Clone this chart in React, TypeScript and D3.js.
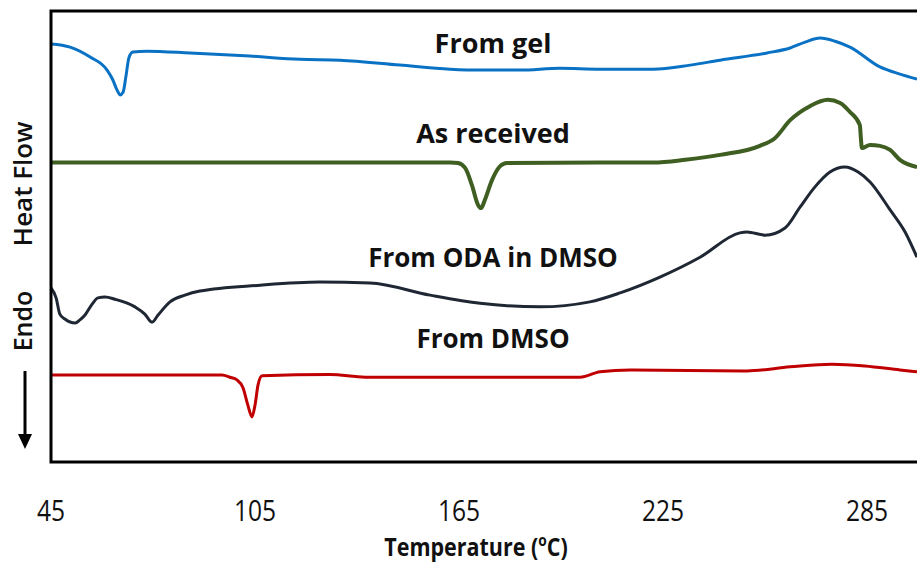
import { useEffect, useRef } from 'react'
import * as d3 from 'd3'

// DSC traces, temperature (°C) vs heat flow (arbitrary units, offset per sample)
const fromGel: [number, number][] = [
  [45.0, 92.7], [50.6, 92.0], [56.5, 89.8], [61.5, 86.9], [63.2, 84.7], [64.4, 82.5],
  [65.3, 81.4], [66.2, 82.0], [67.1, 85.8], [67.9, 89.6], [69.1, 90.9], [73.2, 91.1],
  [85.9, 90.7], [103.5, 90.0], [118.2, 89.3], [130.0, 89.1], [147.6, 88.0], [162.4, 87.1],
  [171.2, 86.9], [182.9, 86.9], [194.7, 87.3], [206.5, 87.1], [222.1, 87.1], [233.0, 88.0],
  [241.8, 89.1], [255.6, 90.7], [262.4, 91.8], [266.8, 93.1], [271.2, 94.0], [275.6, 93.3],
  [280.0, 92.0], [288.8, 87.6], [294.7, 86.0], [299.7, 84.9],
]

const asReceived: [number, number][] = [
  [45.0, 66.4], [162.4, 66.4], [164.7, 66.3], [166.8, 65.2], [168.8, 61.4], [170.6, 57.0],
  [171.5, 56.3], [172.6, 58.1], [174.7, 62.5], [177.1, 65.6], [179.1, 66.3], [206.5, 66.4],
  [222.1, 66.4], [231.5, 67.0], [241.8, 68.1], [253.5, 70.1], [257.9, 71.8], [262.4, 75.8],
  [268.2, 78.9], [273.5, 80.3], [277.1, 79.6], [280.0, 77.6], [282.9, 74.7], [283.2, 71.8],
  [283.5, 69.6], [285.9, 70.3], [288.8, 70.1], [291.8, 69.2], [294.7, 67.0], [299.7, 65.4],
]

const fromOdaDmso: [number, number][] = [
  [45.0, 38.6], [46.5, 36.4], [47.6, 32.8], [49.1, 31.7], [52.1, 30.8], [53.5, 31.5],
  [55.0, 32.6], [57.1, 35.0], [58.8, 36.4], [60.9, 36.6], [63.8, 36.1], [69.7, 34.4],
  [72.6, 32.8], [74.7, 31.0], [76.5, 32.6], [80.0, 35.5], [84.4, 37.0], [88.8, 37.9],
  [106.5, 39.2], [124.1, 39.9], [138.8, 39.7], [156.5, 37.0], [171.2, 35.2], [188.8, 34.4],
  [203.5, 35.5], [212.4, 37.5], [224.1, 41.0], [235.9, 45.4], [247.6, 50.8], [249.7, 51.0],
  [255.0, 50.3], [260.9, 51.9], [265.3, 56.5], [269.7, 61.0], [274.1, 64.3], [278.5, 65.4],
  [282.4, 64.3], [285.9, 62.1], [291.8, 55.9], [296.2, 51.0], [299.7, 45.4],
]

const fromDmso: [number, number][] = [
  [45.0, 19.3], [95.3, 19.3], [97.6, 18.8], [99.7, 18.2], [101.5, 16.4], [102.9, 12.6],
  [104.1, 10.0], [105.0, 12.6], [105.9, 17.1], [107.1, 19.1], [127.1, 19.4], [137.4, 18.8],
  [200.6, 18.8], [206.5, 20.0], [215.3, 20.4], [249.7, 20.2], [262.4, 21.1], [274.7, 21.7],
  [284.4, 21.3], [294.7, 20.4], [299.7, 20.0],
]

const seriesNames = ['From gel', 'As received', 'From ODA in DMSO', 'From DMSO']
const seriesColors = ['#0a72c4', '#3f5f22', '#1e2733', '#c00000']
const seriesWidths = [3, 4, 3, 3]
const seriesData = [fromGel, asReceived, fromOdaDmso, fromDmso]
// label anchor [temperature, heat flow] and size
const labelAt: [number, number][] = [[175, 90.7], [175, 70.7], [175, 43.2], [175, 25.3]]
const labelSize = [27, 27, 26, 26]

const xTicks = [45, 105, 165, 225, 285]

export default function App() {
  const ref = useRef<SVGSVGElement>(null)
  const W = 917
  const H = 565

  useEffect(() => {
    const svg = d3.select(ref.current)
    svg.selectAll('*').remove()

    const left = 51
    const top = 11
    const bottom = 462
    const x = d3.scaleLinear().domain([45, 300]).range([left, left + 255 * 3.4])
    const y = d3.scaleLinear().domain([0, 100]).range([bottom, top])

    svg.append('clipPath').attr('id', 'plotclip')
      .append('rect').attr('x', left).attr('y', top).attr('width', W - left).attr('height', bottom - top)

    const line = d3.line<[number, number]>()
      .x((d) => x(d[0]))
      .y((d) => y(d[1]))
      .curve(d3.curveMonotoneX)

    const g = svg.append('g').attr('clip-path', 'url(#plotclip)')
    seriesData.forEach((s, i) => {
      g.append('path')
        .attr('d', line(s))
        .attr('fill', 'none')
        .attr('stroke', seriesColors[i])
        .attr('stroke-width', seriesWidths[i])
        .attr('stroke-linejoin', 'round')
    })

    // frame
    svg.append('path')
      .attr('d', `M${W + 5},${top} H${left} V${bottom} H${W + 5}`)
      .attr('fill', 'none')
      .attr('stroke', '#000')
      .attr('stroke-width', 3)

    // curve labels
    seriesNames.forEach((n, i) => {
      svg.append('text')
        .attr('x', x(labelAt[i][0]))
        .attr('y', y(labelAt[i][1]))
        .attr('text-anchor', 'middle')
        .attr('font-family', 'Open Sans')
        .attr('font-weight', 700)
        .attr('font-size', labelSize[i])
        .attr('fill', '#111')
        .text(n)
    })

    // x tick labels
    xTicks.forEach((t) => {
      svg.append('text')
        .attr('transform', `translate(${x(t)},521) scale(0.82,1)`)
        .attr('text-anchor', 'middle')
        .attr('font-family', 'Open Sans')
        .attr('font-size', 30)
        .attr('fill', '#111')
        .text(t)
    })

    // x axis title
    const title = svg.append('text')
      .attr('transform', `translate(${x(170)},556) scale(0.86,1)`)
      .attr('text-anchor', 'middle')
      .attr('font-family', 'Open Sans')
      .attr('font-weight', 700)
      .attr('font-size', 25)
      .attr('fill', '#111')
    title.append('tspan').text('Temperature (')
    title.append('tspan').attr('font-size', 16).attr('dy', -10).text('o')
    title.append('tspan').attr('dy', 10).text('C)')

    // y axis labels
    svg.append('text')
      .attr('transform', 'translate(32,184) rotate(-90)')
      .attr('text-anchor', 'middle')
      .attr('font-family', 'Open Sans')
      .attr('font-weight', 600)
      .attr('font-size', 26)
      .attr('fill', '#111')
      .text('Heat Flow')
    svg.append('text')
      .attr('transform', 'translate(32,321) rotate(-90)')
      .attr('text-anchor', 'middle')
      .attr('font-family', 'Open Sans')
      .attr('font-weight', 600)
      .attr('font-size', 25)
      .attr('fill', '#111')
      .text('Endo')
    svg.append('line')
      .attr('x1', 25).attr('x2', 25).attr('y1', 371).attr('y2', 436)
      .attr('stroke', '#000').attr('stroke-width', 3)
    svg.append('path')
      .attr('d', 'M18,434 L32,434 L25,449 Z')
      .attr('fill', '#000')
  }, [])

  return (
    <svg
      ref={ref}
      width={W}
      height={H}
      style={{ position: 'absolute', left: 0, top: 0, background: '#fff' }}
    ></svg>
  )
}
